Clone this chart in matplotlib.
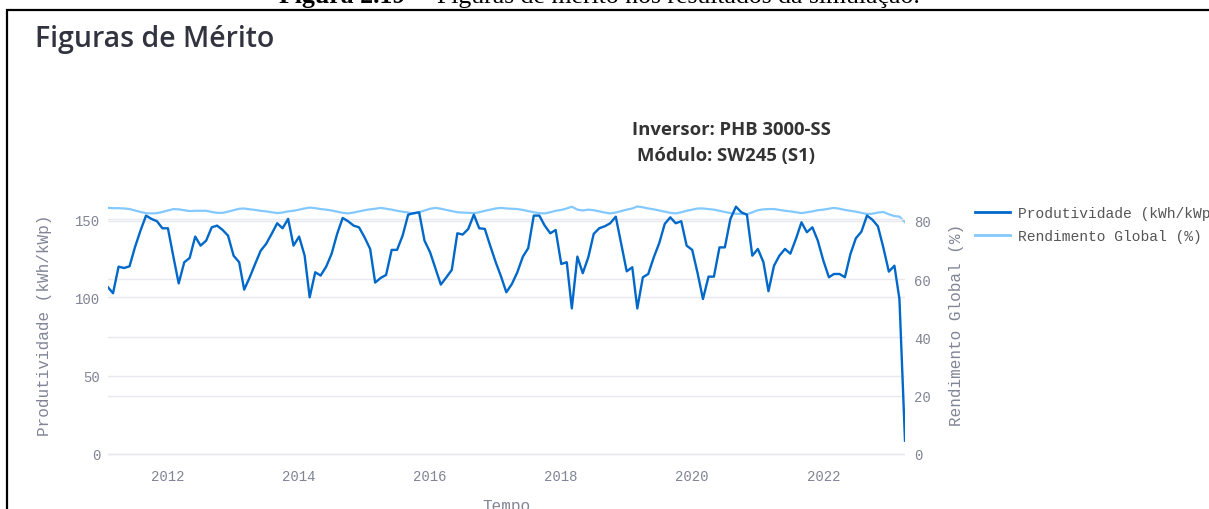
import pandas as pd
import matplotlib.pyplot as plt
import matplotlib.dates as mdates
from matplotlib.patches import Rectangle

# monthly series, Feb 2011 .. Apr 2023
start_month = '2011-02-01'

produtividade = [
    106.5, 102.7, 119.7, 118.8, 119.9, 132.0, 142.7, 152.3, 150.2, 148.7, 144.2, 144.2,
    125.7, 109.0, 122.5, 125.2, 138.9, 133.1, 136.3, 144.8, 145.9, 143.1, 139.5, 126.7,
    122.5, 105.0, 112.9, 121.4, 129.9, 134.2, 140.6, 147.4, 144.2, 150.2, 133.1, 138.9,
    126.7, 100.1, 116.1, 114.0, 119.7, 127.8, 140.6, 150.8, 148.7, 145.9, 144.8, 138.4,
    131.0, 109.5, 112.5, 114.4, 130.4, 130.4, 139.5, 152.9, 153.8, 154.4, 136.3, 128.9,
    118.2, 108.2, 112.9, 117.6, 141.0, 140.2, 143.8, 152.9, 144.2, 143.8, 133.1, 122.5,
    112.9, 103.3, 108.6, 116.0, 126.0, 131.5, 152.3, 152.3, 145.9, 141.0, 143.1, 121.4,
    122.5, 93.0, 126.1, 115.5, 125.7, 140.6, 144.2, 145.5, 147.4, 151.6, 134.6, 116.7,
    119.3, 93.0, 112.9, 115.0, 125.7, 134.6, 147.0, 151.2, 147.4, 148.7, 133.1, 130.4,
    115.0, 99.0, 113.3, 113.3, 132.0, 132.0, 150.2, 158.0, 154.4, 152.9, 126.7, 131.0,
    122.5, 104.0, 120.3, 126.7, 131.0, 128.0, 137.4, 148.0, 141.7, 144.8, 136.3, 123.5,
    112.9, 115.0, 115.0, 112.9, 127.8, 137.8, 142.0, 152.3, 149.7, 145.5, 132.0, 116.5,
    120.3, 99.0, 8.5,
]

rendimento = [
    84.5, 84.4, 84.4, 84.3, 84.1, 83.6, 83.1, 82.7, 82.6, 82.7, 83.1, 83.6,
    84.1, 84.0, 83.7, 83.4, 83.5, 83.5, 83.5, 83.1, 82.8, 82.8, 83.2, 83.7,
    84.2, 84.3, 84.0, 83.8, 83.5, 83.3, 83.0, 82.7, 82.9, 83.3, 83.5, 83.9,
    84.3, 84.6, 84.4, 84.1, 83.9, 83.6, 83.2, 82.8, 82.6, 82.9, 83.3, 83.7,
    84.0, 84.2, 84.5, 84.2, 83.9, 83.5, 83.2, 82.9, 82.6, 83.0, 83.6, 84.2,
    84.5, 84.2, 83.8, 83.4, 83.0, 82.9, 82.8, 82.7, 83.0, 83.5, 83.9, 84.3,
    84.5, 84.3, 84.2, 84.1, 83.8, 83.4, 83.0, 82.7, 82.6, 83.0, 83.5, 83.8,
    84.3, 84.9, 83.9, 83.6, 83.9, 83.7, 83.3, 82.9, 82.6, 82.9, 83.4, 83.9,
    84.3, 85.0, 84.7, 84.3, 84.0, 83.6, 83.2, 82.8, 82.6, 83.0, 83.5, 83.9,
    84.3, 84.3, 84.1, 83.9, 83.5, 83.1, 82.7, 82.5, 82.4, 82.3, 83.0, 83.7,
    84.0, 84.1, 84.1, 83.8, 83.5, 83.3, 83.0, 82.7, 83.0, 83.3, 83.7, 83.9,
    84.2, 84.5, 84.2, 83.8, 83.5, 83.2, 82.8, 82.4, 82.5, 82.9, 83.1, 82.3,
    81.7, 81.5, 79.6,
]

datas = pd.date_range(start_month, periods=len(produtividade), freq='MS')

left_ticks = [0, 50, 100, 150]
right_ticks = [0, 20, 40, 60, 80]
year_ticks = [2012, 2014, 2016, 2018, 2020, 2022]

dark = '#0068c9'
light = '#83c9ff'
grey = '#808495'
grid = '#e6e9ef'
mono = 'Liberation Mono'

W, H = 1209, 510
fig = plt.figure(figsize=(W / 100, H / 100), dpi=100)

ax = fig.add_axes([108 / W, 50 / H, (905 - 108) / W, 260 / H])
ax2 = ax.twinx()
ax.set_zorder(ax2.get_zorder() + 1)
ax.patch.set_visible(False)

ax2.plot(datas, rendimento, color=light, lw=1.6, label='Rendimento Global (%)')
ax.plot(datas, produtividade, color=dark, lw=1.7, label='Produtividade (kWh/kWp)')

ax.set_xlim(datas[0], datas[-1])
ax.set_ylim(-3.2, 162.9)
ax2.set_ylim(-1.72, 87.55)

ax.set_yticks(left_ticks)
ax2.set_yticks(right_ticks)
ax.set_xticks([pd.Timestamp(f'{y}-01-01') for y in year_ticks])
ax.xaxis.set_major_formatter(mdates.DateFormatter('%Y'))

for a in (ax, ax2):
    for s in a.spines.values():
        s.set_visible(False)
    a.tick_params(length=0, labelcolor=grey, labelsize=10)
    for lab in a.get_xticklabels() + a.get_yticklabels():
        lab.set_fontfamily(mono)
ax.tick_params(axis='y', pad=5.5)
ax2.tick_params(axis='y', pad=6.5)
ax.tick_params(axis='x', pad=7)

ax.set_axisbelow(True)
ax2.set_axisbelow(True)
ax.grid(axis='y', color=grid, lw=1)
ax2.grid(axis='y', color=grid, lw=1)
ax.grid(axis='x', visible=False)

# axis titles
fig.text(45 / W, 1 - 325 / H, 'Produtividade (kWh/kWp)', rotation=90, ha='center',
         va='center', color=grey, fontsize=11.5, family=mono)
fig.text(957 / W, 1 - 325 / H, 'Rendimento Global (%)', rotation=90, ha='center',
         va='center', color=grey, fontsize=11.5, family=mono)
fig.text(506 / W, 1 - 506 / H, 'Tempo', ha='center', va='center', color=grey,
         fontsize=11.5, family=mono)

# legend
h1, l1 = ax.get_legend_handles_labels()
h2, l2 = ax2.get_legend_handles_labels()
leg = fig.legend(h1 + h2, l1 + l2, loc='upper left',
                 bbox_to_anchor=(968 / W, 1 - 200 / H), frameon=False,
                 prop={'family': mono, 'size': 10.5}, handlelength=2.4,
                 handletextpad=0.55, labelspacing=0.6, borderpad=0)
for t in leg.get_texts():
    t.set_color('#555555')
for ln in leg.get_lines():
    ln.set_linewidth(2)

# titles
fig.text(35 / W, 1 - 40 / H, 'Figuras de Mérito', ha='left', va='center',
         fontsize=20.5, color='#31333f', family='Open Sans', weight='semibold')
fig.text(632 / W, 1 - 130 / H, 'Inversor: PHB 3000-SS', ha='left', va='center',
         fontsize=13.3, color='#333333', family='Open Sans', weight='bold')
fig.text(637 / W, 1 - 156 / H, 'Módulo: SW245 (S1)', ha='left', va='center',
         fontsize=13.3, color='#333333', family='Open Sans', weight='bold')

# document caption, cut by the top edge
cap1 = fig.text(279 / W, 1 - 3 / H, 'Figura 2.19', ha='left', va='baseline',
                fontsize=18.5, family='Liberation Serif', weight='bold')
fig.canvas.draw()
bb = cap1.get_window_extent()
fig.text(bb.x1 / W + 6 / W, 1 - 3 / H, '–  Figuras de mérito nos resultados da simulação.',
         ha='left', va='baseline', fontsize=18.5, family='Liberation Serif')

# page frame
fig.add_artist(Rectangle((7 / W, -0.1), 1.2, (1 - 11 / H) + 0.1, transform=fig.transFigure,
                         fill=False, edgecolor='black', lw=1.6))

fig.savefig('out.png', dpi=100)
